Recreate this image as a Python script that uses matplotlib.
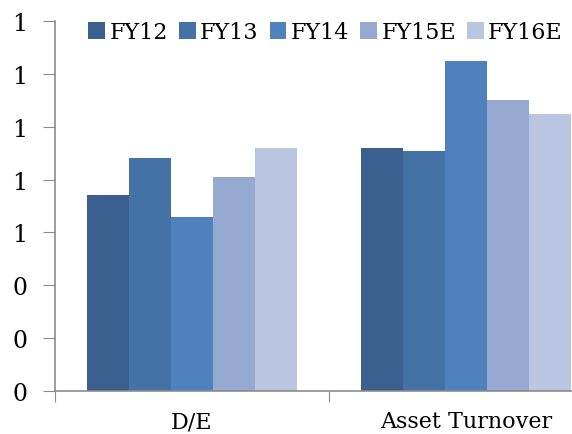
import numpy as np
import matplotlib
matplotlib.use("Agg")
import matplotlib.pyplot as plt
from matplotlib.ticker import FormatStrFormatter

categories = ["D/E", "Asset Turnover"]
series_names = ["FY12", "FY13", "FY14", "FY15E", "FY16E"]
fy12 = [0.74, 0.92]
fy13 = [0.88, 0.91]
fy14 = [0.66, 1.25]
fy15e = [0.81, 1.10]
fy16e = [0.92, 1.05]
y_ticks = [0, 0.2, 0.4, 0.6, 0.8, 1.0, 1.2, 1.4]

values = [fy12, fy13, fy14, fy15e, fy16e]
colors = ["#3B5F8E", "#4472A7", "#4F81BD", "#95A9D1", "#BAC6E1"]

plt.rcParams["font.family"] = ["DejaVu Serif"]

W, H = 572, 435
fig = plt.figure(figsize=(W / 100, H / 100), dpi=100)
ax = fig.add_axes([55 / W, 43 / H, 548 / W, 370 / H])

x = np.arange(len(categories))
bar_w = 0.153
for i, (name, vals, c) in enumerate(zip(series_names, values, colors)):
    offs = (i - 2) * bar_w
    ax.bar(x + offs, vals, width=bar_w, color=c, label=name, linewidth=0)

ax.set_xlim(-0.5, len(categories) - 0.5)
ax.set_ylim(0, 1.4)
ax.set_yticks(y_ticks)
ax.yaxis.set_major_formatter(FormatStrFormatter("%.0f"))

# Category boundaries carry the tick marks; names sit at the centres
ax.set_xticks(np.arange(-0.5, len(categories), 1.0))
ax.set_xticklabels([])
ax.set_xticks(x, minor=True)
ax.set_xticklabels(categories, minor=True)
ax.tick_params(axis="x", which="minor", length=0, pad=14, labelsize=16)
ax.tick_params(axis="x", which="major", length=8, color="#8C8C8C")
ax.tick_params(axis="y", length=9, color="#8C8C8C", pad=11, labelsize=17)

for s in ["top", "right"]:
    ax.spines[s].set_visible(False)
for s in ["left", "bottom"]:
    ax.spines[s].set_color("#8C8C8C")
    ax.spines[s].set_linewidth(1.2)

leg = ax.legend(ncol=5, loc="upper left", bbox_to_anchor=(20 / 548, 1.035),
                frameon=False, fontsize=16, handlelength=0.75, handleheight=0.75,
                handletextpad=0.2, columnspacing=0.5, borderaxespad=0.2)

fig.savefig("out.png", dpi=100)
